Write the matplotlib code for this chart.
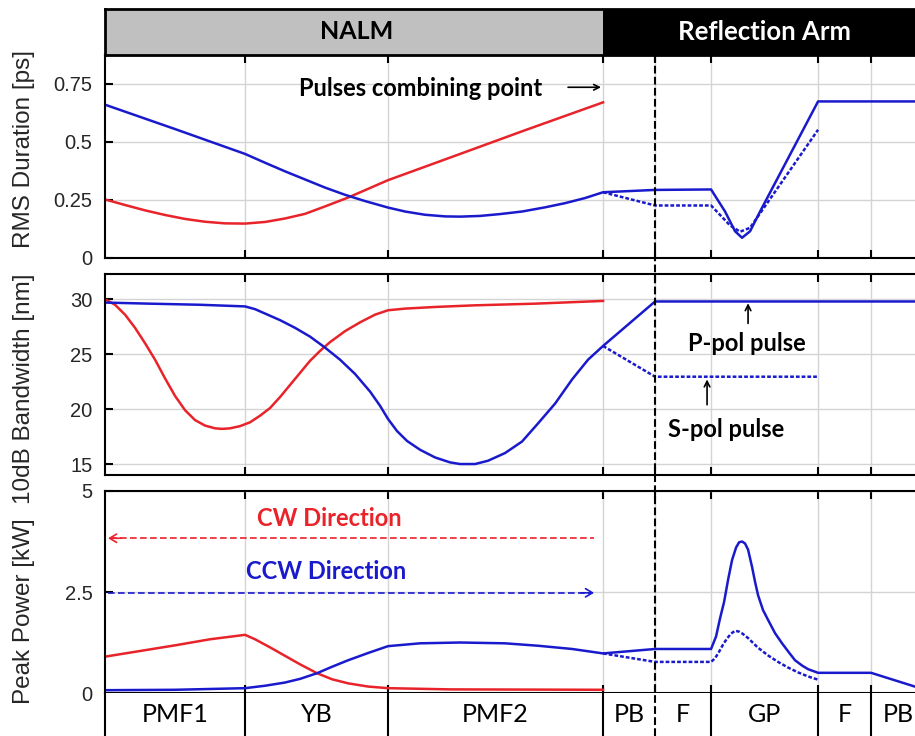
import matplotlib
matplotlib.use("Agg")
import matplotlib.pyplot as plt
from matplotlib import transforms
from matplotlib.lines import Line2D
from matplotlib.patches import Rectangle

plt.rcParams["font.family"] = ["Liberation Sans", "DejaVu Sans"]
plt.rcParams["axes.linewidth"] = 1.5

BLUE = "#1a1acd"
RED = "#e8232a"
GRID = "#d4d4d4"
TXT = "#262626"
CAL = ["Lato", "DejaVu Sans"]   # Calibri-like face for the annotations
DOT = (0, (1.5, 0.8))

# -----------------------------
# Fibre path layout (length units along the cavity)
# -----------------------------
SECTIONS = ["PMF1", "YB", "PMF2", "PB", "F", "GP", "F", "PB"]
BOUNDS = [0, 140, 283, 498, 550, 606, 713, 766, 820]
COMBINE_X = 498   # pulses recombine at the end of the NALM
SPLIT_X = 550     # PB -> F interface

# -----------------------------
# RMS duration [ps]
# -----------------------------
dur_cw_x = [0, 20, 40, 60, 80, 100, 120, 140, 160, 180, 200, 220, 243, 283, 350, 420, 498]
dur_cw = [0.252, 0.228, 0.205, 0.185, 0.168, 0.156, 0.149, 0.148, 0.155, 0.17, 0.19, 0.222,
          0.26, 0.335, 0.44, 0.55, 0.67]

dur_ccw_x = [0, 70, 140, 160, 180, 200, 220, 240, 260, 283, 300, 320, 340, 355, 375, 395, 417,
             440, 460, 480, 498,
             550, 606, 620, 630, 637, 645, 655, 713, 820]
dur_ccw = [0.66, 0.555, 0.448, 0.41, 0.373, 0.338, 0.303, 0.272, 0.245, 0.217, 0.2, 0.186, 0.179,
           0.178, 0.181, 0.189, 0.2, 0.218, 0.236, 0.258, 0.283,
           0.293, 0.295, 0.2, 0.115, 0.087, 0.115, 0.2, 0.674, 0.674]

dur_s_x = [498, 550, 606, 625, 635, 645, 713]
dur_s = [0.283, 0.226, 0.226, 0.14, 0.113, 0.13, 0.552]

# -----------------------------
# 10 dB bandwidth [nm]
# -----------------------------
bw_cw_x = [0, 10, 20, 30, 40, 50, 60, 70, 80, 90, 100, 110, 117, 125, 135, 145, 155, 165, 175,
           185, 195, 205, 215, 225, 240, 255, 270, 283, 300, 330, 370, 430, 498]
bw_cw = [30.0, 29.5, 28.6, 27.4, 26.0, 24.5, 22.8, 21.2, 19.9, 19.0, 18.5, 18.25, 18.2, 18.25,
         18.45, 18.8, 19.4, 20.1, 21.1, 22.2, 23.3, 24.4, 25.3, 26.1, 27.1, 27.9, 28.6, 29.0,
         29.15, 29.3, 29.45, 29.6, 29.85]

bw_ccw_x = [0, 45, 95, 140, 150, 160, 175, 190, 205, 220, 235, 250, 265, 275, 283, 292, 302,
            315, 330, 345, 355, 370, 383, 400, 417, 433, 450, 467, 483, 498, 550, 820]
bw_ccw = [29.7, 29.6, 29.5, 29.35, 29.1, 28.7, 28.1, 27.4, 26.6, 25.6, 24.5, 23.2, 21.6, 20.3,
          19.1, 18.0, 17.1, 16.3, 15.6, 15.15, 15.0, 15.0, 15.3, 16.0, 17.05, 18.7, 20.5, 22.7,
          24.5, 25.75, 29.8, 29.8]

bw_s_x = [498, 550, 713]
bw_s = [25.75, 22.95, 22.95]

# -----------------------------
# Peak power [kW]
# -----------------------------
pk_cw_x = [0, 35, 70, 105, 140, 150, 165, 180, 195, 212, 227, 243, 263, 283, 345, 498]
pk_cw = [0.9, 1.04, 1.18, 1.33, 1.44, 1.33, 1.13, 0.92, 0.71, 0.49, 0.34, 0.24, 0.16, 0.12,
         0.09, 0.08]

pk_ccw_x = [0, 70, 140, 160, 180, 195, 212, 227, 243, 263, 283, 315, 355, 400, 433, 467, 498,
            550, 606, 611, 615, 619, 623, 627, 631, 634, 637, 640, 643, 647, 650, 653, 658, 663,
            670, 677, 684, 690, 697, 703, 713, 766, 820]
pk_ccw = [0.07, 0.08, 0.12, 0.18, 0.26, 0.35, 0.49, 0.65, 0.81, 0.99, 1.16, 1.23, 1.25, 1.23,
          1.17, 1.09, 0.98,
          1.09, 1.09, 1.4, 1.85, 2.25, 2.8, 3.29, 3.6, 3.73, 3.75, 3.7, 3.55, 3.12, 2.75, 2.42,
          2.05, 1.81, 1.48, 1.23, 1.0, 0.81, 0.68, 0.59, 0.5, 0.5, 0.08]

pk_s_x = [498, 550, 606, 610, 614, 618, 622, 626, 630, 634, 638, 643, 648, 653, 663, 673, 683,
          693, 703, 713]
pk_s = [0.98, 0.77, 0.77, 0.86, 1.02, 1.2, 1.35, 1.47, 1.54, 1.52, 1.46, 1.36, 1.24, 1.12, 0.93,
        0.77, 0.63, 0.51, 0.41, 0.33]

# -----------------------------
# Figure
# -----------------------------
fig = plt.figure(figsize=(9.15, 7.36), dpi=100)
L, W = 0.1148, 0.8962

ax1 = fig.add_axes([L, 0.6495, W, 0.2758])
ax2 = fig.add_axes([L, 0.3546, W, 0.2731])
ax3 = fig.add_axes([L, 0.0584, W, 0.2745])


def style_panel(ax, ylim, yticks, yticklabels, ylabel, label_y):
    ax.set_xlim(BOUNDS[0], BOUNDS[-1])
    ax.set_ylim(*ylim)
    ax.set_xticks(BOUNDS[1:-1])
    ax.set_xticklabels([])
    ax.set_yticks(yticks)
    ax.set_yticklabels(yticklabels)
    ax.tick_params(direction="in", length=6, width=1.5, top=True, bottom=True,
                   labelsize=14.5, labelcolor=TXT, pad=9)
    ax.grid(True, color=GRID, lw=1.0)
    ax.set_axisbelow(True)
    ax.set_ylabel(ylabel, fontsize=17.5, color=TXT, va="center")
    ax.yaxis.set_label_coords(-0.0994, label_y)


# RMS duration
ax1.plot(dur_cw_x, dur_cw, color=RED, lw=1.8)
ax1.plot(dur_ccw_x, dur_ccw, color=BLUE, lw=1.8)
ax1.plot(dur_s_x, dur_s, color=BLUE, lw=1.8, ls=DOT)
style_panel(ax1, (0, 0.874), [0, 0.25, 0.5, 0.75], ["0", "0.25", "0.5", "0.75"],
            "RMS Duration [ps]", 0.539)
ax1.text(316, 0.73, "Pulses combining point", fontsize=17, fontweight="bold",
         family=CAL, va="center", ha="center")
ax1.annotate("", xy=(496, 0.735), xytext=(463, 0.735),
             arrowprops=dict(arrowstyle="->", color="k", lw=1.2, shrinkA=0, shrinkB=0))

# Bandwidth
ax2.plot(bw_cw_x, bw_cw, color=RED, lw=1.8)
ax2.plot(bw_ccw_x, bw_ccw, color=BLUE, lw=1.8)
ax2.plot(bw_s_x, bw_s, color=BLUE, lw=1.8, ls=DOT)
style_panel(ax2, (14, 32.3), [15, 20, 25, 30], ["15", "20", "25", "30"],
            "10dB Bandwidth [nm]", 0.428)
ax2.text(642, 26.0, "P-pol pulse", fontsize=17, fontweight="bold", family=CAL,
         ha="center", va="center")
ax2.annotate("", xy=(643, 29.64), xytext=(643, 27.8),
             arrowprops=dict(arrowstyle="->", color="k", lw=1.2, shrinkA=0, shrinkB=0))
ax2.text(621, 18.1, "S-pol pulse", fontsize=17, fontweight="bold", family=CAL,
         ha="center", va="center")
ax2.annotate("", xy=(602, 22.7), xytext=(602, 20.4),
             arrowprops=dict(arrowstyle="->", color="k", lw=1.2, shrinkA=0, shrinkB=0))

# Peak power
ax3.plot(pk_cw_x, pk_cw, color=RED, lw=1.8)
ax3.plot(pk_ccw_x, pk_ccw, color=BLUE, lw=1.8)
ax3.plot(pk_s_x, pk_s, color=BLUE, lw=1.8, ls=DOT)
style_panel(ax3, (0, 5), [0, 2.5, 5], ["0", "2.5", "5"], "Peak Power [kW]", 0.406)

# propagation direction markers
ax3.plot([5, 489], [3.83, 3.83], color=RED, lw=1.2, ls=(0, (4, 2)))
ax3.annotate("", xy=(3, 3.83), xytext=(16, 3.83),
             arrowprops=dict(arrowstyle="->,head_length=0.5,head_width=0.3", color=RED, lw=1.2,
                             shrinkA=0, shrinkB=0))
ax3.plot([3, 487], [2.48, 2.48], color=BLUE, lw=1.2, ls=(0, (4, 2)))
ax3.annotate("", xy=(489, 2.48), xytext=(476, 2.48),
             arrowprops=dict(arrowstyle="->,head_length=0.5,head_width=0.3", color=BLUE, lw=1.2,
                             shrinkA=0, shrinkB=0))
ax3.text(224, 4.33, "CW Direction", color=RED, fontsize=17, fontweight="bold", family=CAL,
         ha="center", va="center")
ax3.text(221, 3.0, "CCW Direction", color=BLUE, fontsize=17, fontweight="bold", family=CAL,
         ha="center", va="center")

# header band: NALM / reflection arm
hdr = fig.add_axes([L, 0.9253, W, 0.0625])
hdr.set_xlim(BOUNDS[0], BOUNDS[-1])
hdr.set_ylim(0, 1)
hdr.add_patch(Rectangle((0, 0), COMBINE_X, 1, fc="#c0c0c0", ec="none"))
hdr.add_patch(Rectangle((COMBINE_X, 0), BOUNDS[-1] - COMBINE_X, 1, fc="black", ec="none"))
hdr.text(COMBINE_X / 2 + 3, 0.5, "NALM", fontsize=18, fontweight="bold", family=CAL,
         ha="center", va="center")
hdr.text((COMBINE_X + BOUNDS[-1]) / 2, 0.5, "Reflection Arm", fontsize=18.5, fontweight="bold",
         family=CAL, color="white", ha="center", va="center")
hdr.set_xticks([])
hdr.set_yticks([])
for s in hdr.spines.values():
    s.set_linewidth(2)

# component row under the plots
row = fig.add_axes([L, 0, W, 0.0584])
row.set_xlim(BOUNDS[0], BOUNDS[-1])
row.set_ylim(0, 1)
row.set_xticks([])
row.set_yticks([])
for s in ["top", "right", "bottom"]:
    row.spines[s].set_visible(False)
for b in BOUNDS[1:-1]:
    if b != SPLIT_X:
        row.axvline(b, color="k", lw=1.5)
for name, a, b in zip(SECTIONS, BOUNDS[:-1], BOUNDS[1:]):
    row.text((a + b) / 2, 0.5, name, fontsize=18, family=CAL, ha="center", va="center")

# PB/F interface marker through all panels
trans = transforms.blended_transform_factory(ax3.transData, fig.transFigure)
fig.add_artist(Line2D([SPLIT_X, SPLIT_X], [0, 0.9253], transform=trans, color="k",
                      lw=1.5, ls="--", zorder=10))

fig.savefig("out.png", dpi=100)
